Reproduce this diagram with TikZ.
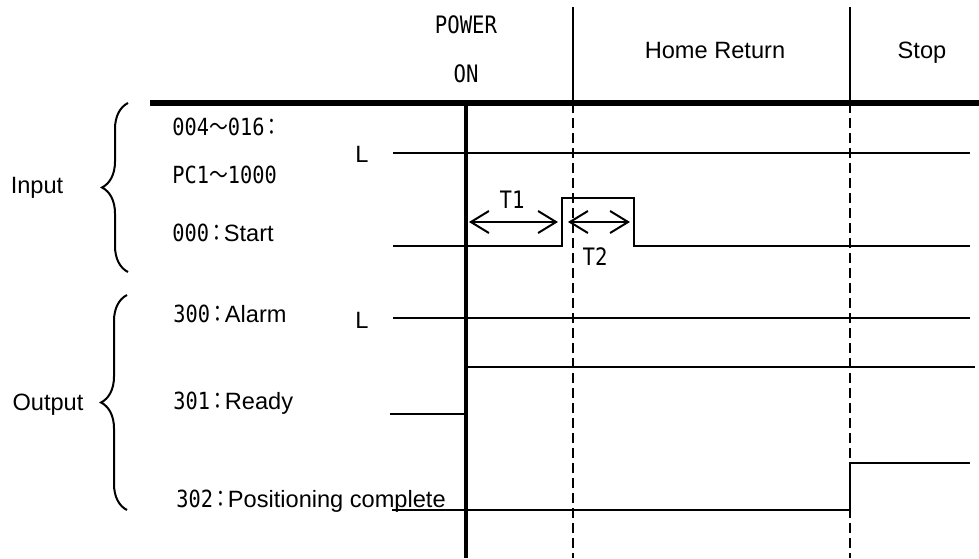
\documentclass[tikz,border=0pt]{standalone}
\usepackage{fontspec}
\setmainfont{Liberation Sans}
\newfontfamily\gothic[FakeStretch=0.86]{DejaVu Sans Mono}
\newfontfamily\cjk[FakeStretch=0.8]{Noto Sans CJK JP}
\newcommand\jcolon{\kern-1pt{\cjk ：}\kern-1pt}

\usetikzlibrary{arrows.meta,decorations.pathreplacing}

\begin{document}
\begin{tikzpicture}[
  x=0.5pt, y=-0.5pt,
  every node/.style={inner sep=0pt, font=\fontsize{11.8}{14}\selectfont},
  gth/.style={font=\gothic\fontsize{12}{14}\selectfont},
  lbl/.style={anchor=base west},
  sig/.style={line width=1pt},
  axisline/.style={line width=3pt},
  pwr/.style={line width=2pt},
  sep/.style={line width=1pt},
  tline/.style={line width=1pt, dash pattern=on 5pt off 2.5pt},
  span/.style={{Straight Barb[length=9pt,width=11pt]}-{Straight Barb[length=9pt,width=11pt]}, line width=1pt},
  brc/.style={decorate, decoration={brace, amplitude=13pt}, line width=1pt},
]
\useasboundingbox (0,0) rectangle (979,558);

%% time marks
\coordinate (on)   at (466,103);
\coordinate (home) at (573,103);
\coordinate (stop) at (850,103);

%% header
\node[gth, anchor=base] (power) at (466,33) {POWER};
\node[gth, anchor=base] (pon)   at (466,82) {ON};
\node[anchor=base] (homeret) at (715,58) {Home Return};
\node[anchor=base] (stopl)   at (922,58) {Stop};
\draw[sep] (573,7) -- (home);
\draw[sep] (850,7) -- (stop);
\draw[axisline] (150,103) -- (979,103);

%% vertical time lines
\draw[pwr] (on) -- ++(0,455);
\draw[tline] (home) -- ++(0,455);
\draw[tline] (stop) -- ++(0,455);

%% Input group
\node[anchor=base] (input) at (37,193) {Input};
\draw[brc] (128,272) -- (128,103);
\node[lbl] (in1)   at (172,135) {\gothic 004{\cjk ～}016\jcolon};
\node[lbl] (in2)   at (172,183) {\gothic PC1{\cjk ～}1000};
\node[lbl] (start) at (172,241) {{\gothic 000\jcolon}Start};
\node[anchor=base] (lA) at (362,162) {L};

\draw[sig] (393,153) -- (970,153);
\draw[sig] (393,246) -- (562,246) -- (562,198) -- (634,198) -- (634,246) -- (970,246);

%% T1 / T2
\coordinate (t1a) at (469,222);
\coordinate (t1b) at (558,222);
\coordinate (t2a) at (568,222);
\coordinate (t2b) at (630,222);
\draw[span] (t1a) -- (t1b);
\draw[span] (t2a) -- (t2b);
\node[gth, anchor=base] (t1) at (512,208) {T1};
\node[gth, anchor=base] (t2) at (595,265) {T2};

%% Output group
\node[anchor=base] (output) at (48,410) {Output};
\draw[brc] (127,510) -- (127,295);
\node[lbl] (alarm) at (173,322) {{\gothic 300\jcolon}Alarm};
\node[lbl] (ready) at (173,409) {{\gothic 301\jcolon}Ready};
\node[lbl] (posc)  at (176,507) {{\gothic 302\jcolon}Positioning complete};
\node[anchor=base] (lB) at (362,328) {L};

\draw[sig] (393,318) -- (970,318);
\draw[sig] (390,414) -| (466,367) -- (975,367);
\draw[sig] (392,510) -- (850,510) -- (850,463) -- (970,463);

\end{tikzpicture}
\end{document}
